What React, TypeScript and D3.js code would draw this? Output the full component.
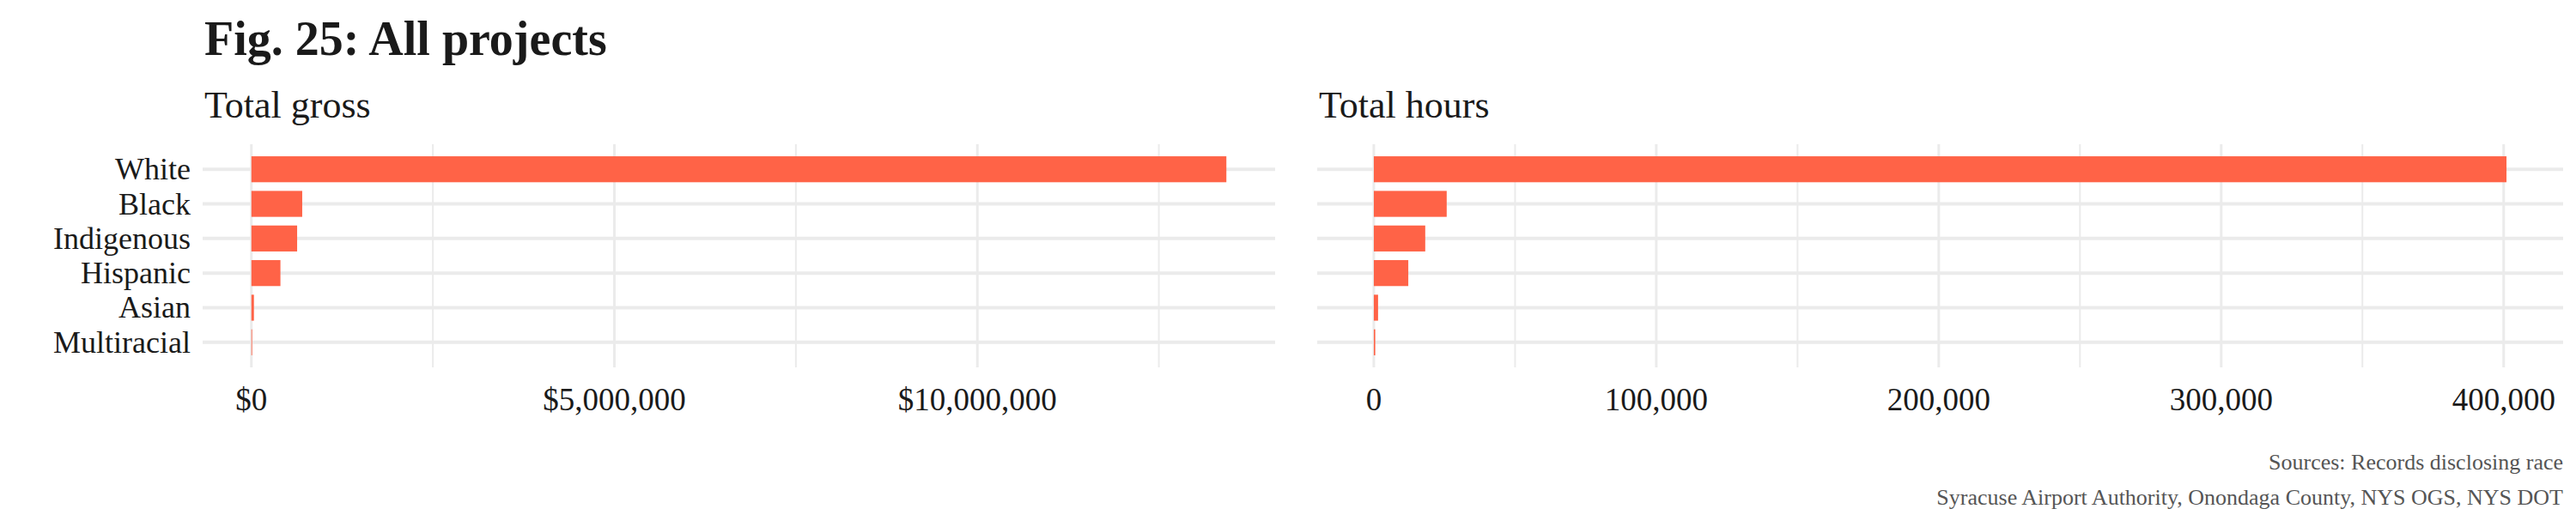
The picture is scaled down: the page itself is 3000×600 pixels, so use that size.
import React from 'react'
import * as d3 from 'd3'

const categories = ['White', 'Black', 'Indigenous', 'Hispanic', 'Asian', 'Multiracial']
const grossValues = [13430000, 700000, 630000, 400000, 35000, 10000]
const hoursValues = [401000, 25800, 18200, 12200, 1500, 500]
const grossTicks = [0, 5000000, 10000000]
const hoursTicks = [0, 100000, 200000, 300000, 400000]

const FONT = '"Liberation Serif", "DejaVu Serif", serif'
const BAR = '#ff6347'
const GRID = '#ebebeb'

const y = d3.scaleBand().domain(categories).range([172, 424]).padding(0.25)

const Panel = ({ title, values, ticks, left, right, fmt, showLabels }) => {
  const max = d3.max(values)
  const x = d3.scaleLinear().domain([-max * 0.05, max * 1.05]).range([left, right])
  const step = ticks[1] - ticks[0]
  const minor = d3.range(step / 2, max * 1.05, step)
  return (
    <g>
      <text x={left + 2} y={137} fontSize={44} fill="#1a1a1a">{title}</text>
      {minor.map((t) => (
        <line key={'m' + t} x1={x(t)} x2={x(t)} y1={168} y2={428} stroke={GRID} strokeWidth={2} />
      ))}
      {ticks.map((t) => (
        <line key={'t' + t} x1={x(t)} x2={x(t)} y1={168} y2={428} stroke={GRID} strokeWidth={3} />
      ))}
      {categories.map((c) => (
        <line key={'h' + c} x1={left} x2={right} y1={y(c) + y.bandwidth() / 2} y2={y(c) + y.bandwidth() / 2} stroke={GRID} strokeWidth={4} />
      ))}
      {categories.map((c, i) => (
        <rect key={c} x={x(0)} y={y(c)} width={x(values[i]) - x(0)} height={y.bandwidth()} fill={BAR} />
      ))}
      {ticks.map((t) => (
        <text key={'l' + t} x={x(t)} y={478} fontSize={37} textAnchor="middle" fill="#1a1a1a">{fmt(t)}</text>
      ))}
      {showLabels && categories.map((c) => (
        <text key={'c' + c} x={left - 14} y={y(c) + y.bandwidth() / 2 + 12} fontSize={36} textAnchor="end" fill="#1a1a1a">{c}</text>
      ))}
    </g>
  )
}

export default function App() {
  const money = (d) => '$' + d3.format(',')(d)
  return (
    <svg width={3000} height={600} style={{ position: 'absolute', left: 0, top: 0, background: '#fff' }} fontFamily={FONT}>
      <text x={238} y={64} fontSize={56} fontWeight="bold" fill="#1a1a1a">Fig. 25: All projects</text>
      <Panel title="Total gross" values={grossValues} ticks={grossTicks} left={236} right={1485} fmt={money} showLabels />
      <Panel title="Total hours" values={hoursValues} ticks={hoursTicks} left={1534} right={2985} fmt={d3.format(',')} showLabels={false} />
      <text x={2985} y={547} fontSize={26} textAnchor="end" fill="#555">Sources: Records disclosing race</text>
      <text x={2985} y={588} fontSize={26} textAnchor="end" fill="#555">Syracuse Airport Authority, Onondaga County, NYS OGS, NYS DOT</text>
    </svg>
  )
}
